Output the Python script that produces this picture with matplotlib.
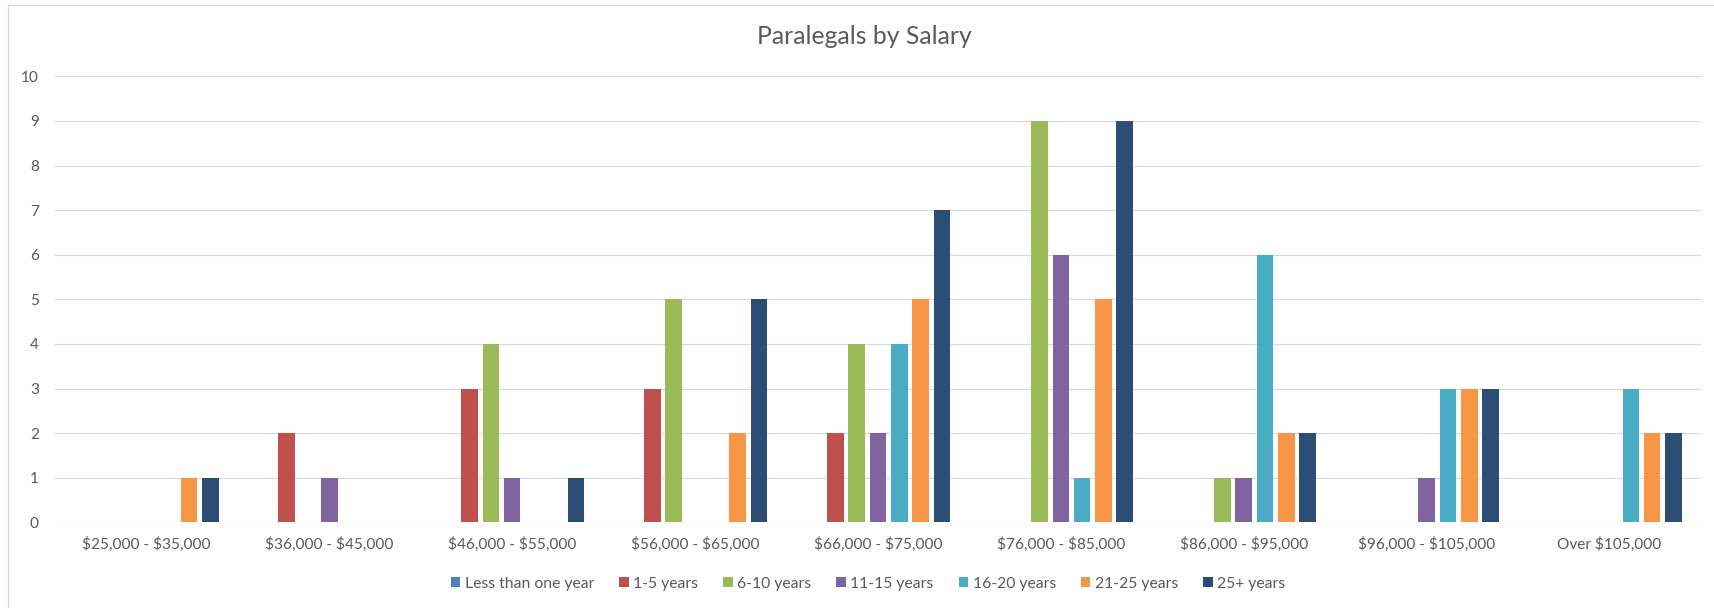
import matplotlib
matplotlib.use("Agg")
import matplotlib.pyplot as plt
from matplotlib.patches import Rectangle
import numpy as np

plt.rcParams['text.parse_math'] = False

categories = ["$25,000 - $35,000", "$36,000 - $45,000", "$46,000 - $55,000",
              "$56,000 - $65,000", "$66,000 - $75,000", "$76,000 - $85,000",
              "$86,000 - $95,000", "$96,000 - $105,000", "Over $105,000"]
series_names = ["Less than one year", "1-5 years", "6-10 years", "11-15 years",
                "16-20 years", "21-25 years", "25+ years"]
less_than_one = [0, 0, 0, 0, 0, 0, 0, 0, 0]
y1_5 = [0, 2, 3, 3, 2, 0, 0, 0, 0]
y6_10 = [0, 0, 4, 5, 4, 9, 1, 0, 0]
y11_15 = [0, 1, 1, 0, 2, 6, 1, 1, 0]
y16_20 = [0, 0, 0, 0, 4, 1, 6, 3, 3]
y21_25 = [1, 0, 0, 2, 5, 5, 2, 3, 2]
y25_plus = [1, 0, 1, 5, 7, 9, 2, 3, 2]
yticks = list(range(0, 11))

series_values = [less_than_one, y1_5, y6_10, y11_15, y16_20, y21_25, y25_plus]
colors = ["#4F81BD", "#C0504D", "#9BBB59", "#8064A2", "#4BACC6", "#F79646", "#2C4D75"]

FAMILY = "Lato"
TXT = "#595959"
GRID = "#D9D9D9"

W, H = 1714, 608
fig = plt.figure(figsize=(W / 100, H / 100), dpi=100)
fig.patch.set_facecolor("white")
renderer = fig.canvas.get_renderer()


def fit_size(text, target_px, base=10.0):
    t = fig.text(0, 0, text, fontsize=base, family=FAMILY, parse_math=False)
    w = t.get_window_extent(renderer).width
    t.remove()
    return base * target_px / w


title_fs = fit_size("Paralegals by Salary", 213)
tick_fs = fit_size("$25,000 - $35,000", 127)
leg_fs = fit_size("Less than one year", 129)

# chart border
fig.add_artist(Rectangle((8 / W, -0.1), 1.2, 1 - 5 / H + 0.1, transform=fig.transFigure,
                         fill=False, edgecolor=GRID, linewidth=0.9))

left, right = 54.9, 1701
top, bottom = 76.3, 522.3
ax = fig.add_axes([left / W, 1 - bottom / H, (right - left) / W, (bottom - top) / H])

x = np.arange(len(categories))
slot = 0.1165
bw = 0.091
for i, (name, vals, c) in enumerate(zip(series_names, series_values, colors)):
    ax.bar(x + (i - 3) * slot, vals, width=bw, color=c, label=name, linewidth=0, zorder=3)

ax.set_xlim(-0.5, len(categories) - 0.5)
ax.set_ylim(0, 10)
ax.set_yticks(yticks)
ax.set_yticklabels([str(v) for v in yticks])
ax.set_xticks(x)
ax.set_xticklabels(categories)
for s in ax.spines.values():
    s.set_visible(False)
ax.tick_params(axis="both", length=0, labelsize=tick_fs, labelcolor=TXT)
ax.tick_params(axis="y", pad=11.5)
ax.tick_params(axis="x", pad=10.5)
for lab in ax.get_xticklabels() + ax.get_yticklabels():
    lab.set_family(FAMILY)
ax.grid(axis="y", color=GRID, linewidth=0.8, zorder=0)
ax.set_axisbelow(True)

fig.text(864.5 / W, 1 - 36 / H, "Paralegals by Salary", fontsize=title_fs,
         family=FAMILY, color=TXT, ha="center", va="center")

fs_px = leg_fs * 100 / 72
leg = fig.legend(loc="center", bbox_to_anchor=(868 / W, 1 - 584 / H), ncol=7,
                 frameon=False, prop={"family": FAMILY, "size": leg_fs},
                 handlelength=9.5 / fs_px, handleheight=9.5 / fs_px,
                 handletextpad=4.5 / fs_px, columnspacing=25 / fs_px,
                 borderpad=0, borderaxespad=0)
for t in leg.get_texts():
    t.set_color(TXT)

fig.savefig("out.png", dpi=100, facecolor="white")
